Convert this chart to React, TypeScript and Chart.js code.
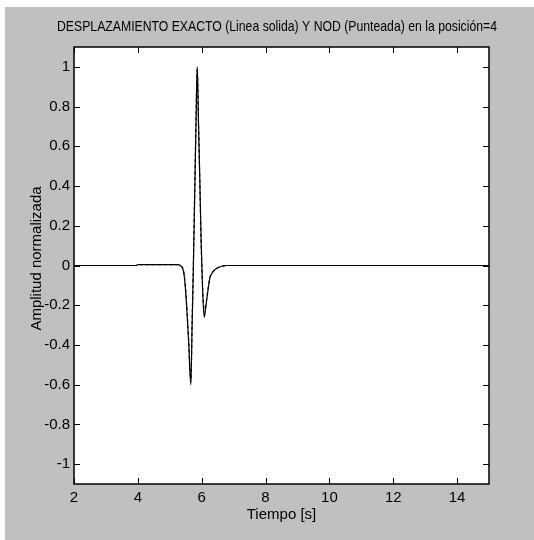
import React, { useEffect, useRef } from "react";
import { Chart, registerables } from "chart.js";

Chart.register(...registerables);

const TIME = [2, 3.95, 4.0, 5.25, 5.33, 5.43, 5.48, 5.53, 5.59, 5.66, 5.7, 5.74, 5.78, 5.82, 5.86, 5.9, 5.94, 5.98, 6.02, 6.05, 6.08, 6.12, 6.16, 6.21, 6.26, 6.34, 6.42, 6.58, 6.8, 15];
const EXACT = [0, 0, 0.004, 0.004, 0, -0.03, -0.095, -0.21, -0.38, -0.6, -0.3, 0, 0.35, 0.7, 1.0, 0.72, 0.44, 0.14, -0.08, -0.2, -0.26, -0.22, -0.17, -0.11, -0.06, -0.035, -0.02, -0.006, 0, 0];
const NOD = [0, 0, 0.004, 0.004, 0, -0.025, -0.09, -0.2, -0.37, -0.585, -0.29, 0.01, 0.36, 0.71, 0.99, 0.71, 0.43, 0.13, -0.07, -0.18, -0.22, -0.21, -0.165, -0.105, -0.058, -0.034, -0.02, -0.006, 0, 0];

const X_TICKS = [2, 4, 6, 8, 10, 12, 14];
const X_LABELS = ["2", "4", "6", "8", "10", "12", "14"];
const Y_TICKS = [-1, -0.8, -0.6, -0.4, -0.2, 0, 0.2, 0.4, 0.6, 0.8, 1];
const Y_LABELS = ["-1", "-0.8", "-0.6", "-0.4", "-0.2", "0", "0.2", "0.4", "0.6", "0.8", "1"];

const TITLE = "DESPLAZAMIENTO EXACTO (Linea solida) Y NOD (Punteada) en la posición=4";
const X_TITLE = "Tiempo [s]";
const Y_TITLE = "Amplitud normalizada";

const FONT = "'Liberation Sans Narrow', 'Arial Narrow', 'Liberation Sans', Arial, sans-serif";

const framePlugin = {
  id: "matlabFrame",
  beforeDraw(chart: any) {
    const { ctx, width, height, chartArea } = chart;
    ctx.save();
    ctx.fillStyle = "#ffffff";
    ctx.fillRect(0, 0, width, height);
    ctx.fillStyle = "#c0c0c0";
    ctx.fillRect(5, 7, width - 5, height - 7);
    ctx.fillStyle = "#ffffff";
    ctx.fillRect(chartArea.left, chartArea.top, chartArea.right - chartArea.left, chartArea.bottom - chartArea.top);
    ctx.restore();
  },
  afterLayout(chart: any) {
    const tb = chart.titleBlock;
    if (tb) {
      tb.left = 57;
      tb.right = 497;
    }
    const ys = chart.scales.y;
    if (ys && !ys.__patched) {
      const orig = ys.drawTitle.bind(ys);
      ys.drawTitle = (...args: any[]) => {
        const c = ys.ctx;
        c.save();
        c.translate(0, -7);
        orig(...args);
        c.restore();
      };
      ys.__patched = true;
    }
  },
  afterDatasetsDraw(chart: any) {
    const { ctx, chartArea, scales } = chart;
    const { left, right, top, bottom } = chartArea;
    const len = 6;
    ctx.save();
    ctx.strokeStyle = "#000000";
    ctx.lineWidth = 1;
    ctx.beginPath();
    for (const t of scales.x.ticks) {
      const px = Math.round(scales.x.getPixelForValue(t.value)) + 0.5;
      ctx.moveTo(px, bottom);
      ctx.lineTo(px, bottom - len);
      ctx.moveTo(px, top);
      ctx.lineTo(px, top + len);
    }
    for (const t of scales.y.ticks) {
      const py = Math.round(scales.y.getPixelForValue(t.value)) + 0.5;
      ctx.moveTo(left, py);
      ctx.lineTo(left + len, py);
      ctx.moveTo(right, py);
      ctx.lineTo(right - len, py);
    }
    ctx.stroke();
    ctx.lineWidth = 1.5;
    ctx.strokeRect(left, top, right - left, bottom - top);
    ctx.restore();
  },
};

export default function App() {
  const ref = useRef<HTMLCanvasElement | null>(null);

  useEffect(() => {
    if (!ref.current) return;
    const chart = new Chart(ref.current, {
      type: "line",
      data: {
        datasets: [
          {
            label: "Exacto",
            data: TIME.map((t, i) => ({ x: t, y: EXACT[i] })),
            borderColor: "#000000",
            borderWidth: 1.2,
            pointRadius: 0,
            fill: false,
            cubicInterpolationMode: "monotone",
          },
          {
            label: "NOD",
            data: TIME.map((t, i) => ({ x: t, y: NOD[i] })),
            borderColor: "#000000",
            borderWidth: 1.2,
            borderDash: [3, 3],
            pointRadius: 0,
            fill: false,
            cubicInterpolationMode: "monotone",
          },
        ],
      },
      options: {
        animation: false,
        responsive: false,
        devicePixelRatio: 1,
        layout: { padding: { left: 0, right: 45, top: 0, bottom: 0 } },
        plugins: {
          legend: { display: false },
          tooltip: { enabled: false },
          title: {
            display: true,
            text: TITLE,
            fullSize: false,
            color: "#000000",
            font: { family: FONT, size: 15, weight: "normal" },
            padding: { top: 18, bottom: 11 },
          },
        },
        scales: {
          x: {
            type: "linear",
            min: 2,
            max: 15,
            afterBuildTicks: (s: any) => {
              s.ticks = X_TICKS.map((v) => ({ value: v }));
            },
            afterFit: (s: any) => {
              s.height = 56;
            },
            grid: { display: false, drawTicks: false },
            border: { display: false },
            ticks: {
              color: "#000000",
              font: { family: FONT, size: 15 },
              padding: 5,
              maxRotation: 0,
              autoSkip: false,
              callback: (v: any, i: number) => X_LABELS[i],
            },
            title: {
              display: true,
              text: X_TITLE,
              color: "#000000",
              font: { family: FONT, size: 15 },
              padding: { top: 0, bottom: 16 },
            },
          },
          y: {
            type: "linear",
            min: -1.1,
            max: 1.1,
            afterBuildTicks: (s: any) => {
              s.ticks = Y_TICKS.map((v) => ({ value: v }));
            },
            afterFit: (s: any) => {
              s.width = 74;
            },
            grid: { display: false, drawTicks: false },
            border: { display: false },
            ticks: {
              color: "#000000",
              font: { family: FONT, size: 15 },
              padding: 4,
              autoSkip: false,
              callback: (v: any, i: number) => Y_LABELS[i],
            },
            title: {
              display: true,
              text: Y_TITLE,
              color: "#000000",
              font: { family: FONT, size: 15 },
              padding: { top: 28, bottom: 0 },
            },
          },
        },
      },
      plugins: [framePlugin],
    } as any);
    return () => chart.destroy();
  }, []);

  return (
    <div style={{ position: "absolute", left: 0, top: 0, width: 534, height: 540 }}>
      <canvas ref={ref} width={534} height={540} style={{ width: 534, height: 540, display: "block" }} />
    </div>
  );
}
